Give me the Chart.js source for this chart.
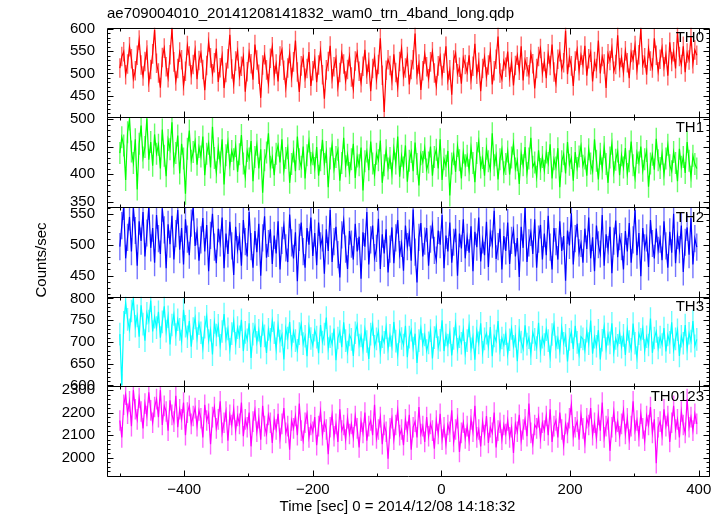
<!DOCTYPE html>
<html><head><meta charset="utf-8">
<script src="https://cdn.jsdelivr.net/npm/chart.js@4/dist/chart.umd.min.js"></script>
<style>html,body{margin:0;padding:0;background:#fff}</style>
</head><body>
<canvas id="c" width="724" height="516"></canvas>
<script>
const TITLE = 'ae709004010_20141208141832_wam0_trn_4band_long.qdp';
const X_TITLE = 'Time [sec] 0 = 2014/12/08 14:18:32';
const Y_TITLE = 'Counts/sec';
const BAND_NAMES = ['TH0', 'TH1', 'TH2', 'TH3', 'TH0123'];
const BAND_COLORS = ['#ff0000', '#00ff00', '#0000ff', '#00ffff', '#ff00ff'];
const BAND_ERR_COLORS = ['rgba(255,0,0,0.6)', 'rgba(0,255,0,0.6)', 'rgba(0,0,255,0.55)', 'rgba(0,255,255,0.6)', 'rgba(255,0,255,0.6)'];
const T_START = -500, T_STEP = 3;           // first bin time and bin width [sec]

const TH0 = [
512,538,549,497,521,560,533,488,506,541,575,519,494,527,553,480,509,544,598,523,
501,468,536,557,515,490,542,600,526,483,511,548,531,472,505,563,539,497,520,552,
487,529,546,509,462,518,571,535,499,524,556,481,513,540,467,502,533,587,510,476,
528,551,493,516,538,459,504,547,522,486,565,530,498,445,519,542,508,477,534,560,
495,521,482,539,553,507,468,512,545,491,526,574,503,458,517,536,489,511,548,472,
506,533,480,519,551,497,443,508,527,562,488,515,534,470,502,545,521,483,509,538,
492,465,528,547,505,479,516,553,498,525,460,511,537,486,520,579,496,413,507,531,
518,484,543,502,469,527,556,493,512,538,475,509,531,590,497,521,463,506,544,515,
488,526,549,501,472,517,538,495,523,561,484,508,452,530,546,499,514,477,535,520,
503,541,486,516,567,498,525,460,511,537,492,519,548,475,506,532,583,501,487,528,
514,549,492,526,473,518,541,507,561,484,530,515,497,545,522,466,511,538,556,501,
527,489,544,518,565,503,478,532,549,509,524,596,498,536,517,472,528,553,506,541,
519,562,495,533,548,482,527,511,574,500,538,521,467,544,529,557,505,520,586,513,
536,502,551,524,489,547,530,563,508,542,600,519,535,497,556,528,512,579,541,504,
532,558,515,543,495,570,527,549,511,591,538,520,561,503,546,530,584,522,553,541];
const TH1 = [
438,467,452,389,476,499,441,420,463,372,455,488,430,449,501,426,458,415,472,437,
453,410,481,433,396,462,445,494,419,438,470,401,455,428,364,446,479,424,440,459,
417,449,432,468,398,437,455,412,486,429,403,447,421,463,381,434,458,416,442,427,
451,404,436,471,419,395,442,428,460,387,431,453,410,445,366,425,439,474,413,430,
398,437,452,421,463,406,429,447,384,418,441,405,468,427,413,450,392,434,459,420,
436,411,449,397,425,462,418,440,376,428,453,409,431,444,388,420,466,414,435,402,
427,455,393,432,416,448,370,423,441,407,459,419,398,437,425,461,384,416,443,410,
429,401,446,419,468,395,433,412,452,386,424,440,405,457,418,379,436,422,447,408,
421,450,397,431,444,410,463,389,427,415,442,361,419,436,404,451,425,392,439,416,
433,407,448,420,385,438,459,412,429,397,446,423,408,474,416,434,390,427,445,403,
418,441,399,430,455,410,425,382,437,416,449,402,428,466,413,421,395,443,409,431,
406,439,420,454,392,427,412,447,376,423,436,401,458,417,429,388,440,411,432,451,
415,428,397,445,419,405,463,424,390,437,410,449,418,384,430,455,403,426,441,398,
434,412,447,400,423,459,416,393,438,421,450,406,427,442,377,419,435,408,464,425,
411,437,399,428,453,416,405,440,420,387,446,413,431,402,458,424,395,433,418,410];
const TH2 = [
497,531,562,478,512,545,489,560,523,466,538,506,553,481,519,562,495,527,471,548,
510,485,559,524,462,533,501,547,476,518,556,492,527,468,541,509,483,535,561,498,
521,474,508,543,489,532,457,515,550,496,470,526,503,544,462,518,485,537,498,451,
529,492,513,466,540,505,481,553,497,463,522,488,534,450,511,546,479,502,525,469,
515,486,538,460,507,531,495,472,549,503,478,520,441,512,536,489,463,527,500,544,
482,519,467,536,498,511,453,525,490,556,472,505,529,484,447,516,539,493,461,522,
501,476,534,489,513,445,520,497,553,468,508,531,479,494,542,461,517,486,525,455,
493,528,470,511,540,484,502,458,531,497,519,474,557,488,439,512,535,481,506,527,
466,509,532,491,475,523,500,548,462,515,489,536,471,504,526,450,518,494,541,478,
512,487,530,457,521,496,544,473,508,483,537,464,519,501,555,477,497,526,460,514,
490,536,469,507,524,481,511,448,529,495,561,472,503,520,485,541,463,509,532,476,
518,483,547,496,460,527,505,476,538,490,514,442,523,499,551,468,510,534,487,502,
471,526,493,544,478,512,457,531,500,485,548,466,517,492,529,454,506,539,480,513,
497,460,522,489,535,471,508,556,483,519,449,527,495,511,464,540,502,478,526,491,
509,475,538,498,463,521,487,550,470,515,492,531,456,504,528,484,543,468,510,496];
const TH3 = [
718,601,745,790,752,728,771,799,736,760,712,784,741,703,766,748,795,724,757,733,
769,710,746,782,725,758,694,739,763,717,751,729,702,774,736,712,748,689,731,755,
708,742,721,686,734,759,703,727,671,745,716,738,692,724,764,707,730,683,719,748,
697,733,712,751,679,722,705,743,663,718,736,699,727,688,740,714,675,729,706,749,
721,684,738,702,716,660,731,709,746,690,724,703,681,719,741,696,713,667,735,708,
692,727,711,674,739,700,718,756,685,712,695,731,658,709,724,688,745,703,677,716,
706,668,721,739,693,714,682,729,701,661,718,740,690,707,725,676,712,699,733,684,
715,689,746,702,671,724,708,693,737,665,711,727,686,719,652,703,731,694,716,680,
698,726,662,710,735,687,704,750,679,716,693,722,669,708,741,683,712,697,728,674,
703,737,684,711,659,725,698,743,676,707,720,689,734,667,714,702,748,681,709,693,
719,672,705,731,690,713,656,727,700,684,738,695,710,673,722,706,687,744,679,711,
694,728,703,666,717,740,688,709,679,732,697,715,655,706,723,684,737,699,671,712,
707,681,725,696,749,673,711,690,727,660,704,735,685,718,698,743,677,708,692,721,
688,715,670,729,701,683,742,697,664,719,706,731,680,712,693,754,675,709,724,686,
711,694,732,678,716,699,745,682,707,728,668,713,697,739,684,720,702,748,691,706];
const TH0123 = [
2165,2090,2235,2280,2195,2250,2140,2300,2215,2170,2265,2205,2130,2240,2185,2290,2210,2155,2225,2260,
2180,2300,2145,2230,2205,2120,2255,2190,2160,2275,2135,2215,2170,2245,2100,2200,2230,2150,2185,2220,
2140,2210,2175,2090,2235,2165,2195,2060,2180,2225,2130,2170,2250,2110,2155,2205,2075,2190,2145,2215,
2120,2185,2150,2245,2095,2170,2135,2200,2050,2160,2210,2115,2175,2080,2230,2140,2105,2190,2155,2065,
2170,2125,2195,2085,2150,2220,2110,2140,2035,2165,2130,2185,2100,2240,2120,2075,2155,2195,2090,2145,
2115,2180,2055,2140,2205,2100,2160,2125,2015,2135,2190,2095,2150,2070,2215,2120,2145,2080,2175,2105,
2150,2090,2185,2130,2045,2160,2110,2200,2075,2140,2165,2100,2235,2085,2125,2180,2060,2145,2115,1995,
2130,2175,2080,2145,2210,2100,2125,2055,2170,2115,2190,2035,2135,2160,2090,2225,2105,2140,2070,2180,
2095,2150,2120,2040,2165,2105,2195,2080,2135,2060,2145,2115,2210,2070,2125,2175,2025,2110,2155,2085,
2140,2075,2170,2115,2230,2090,2125,2050,2160,2100,2185,2065,2135,2110,2200,2045,2120,2155,2080,2145,
2105,2165,2090,2135,2020,2150,2115,2190,2075,2125,2170,2095,2240,2110,2060,2145,2130,2180,2085,2155,
2120,2185,2100,2215,2070,2140,2165,2090,2200,2125,2055,2150,2110,2175,2235,2095,2135,2160,2080,2190,
2130,2065,2175,2145,2220,2100,2155,2085,2190,2120,2245,2090,2140,2170,2030,2135,2205,2115,2160,2095,
2150,2210,2105,2175,2080,2140,2250,2120,2165,2095,2195,2130,2075,2185,2145,2225,2110,2170,1975,2135,
2160,2100,2215,2140,2185,2070,2155,2230,2125,2170,2090,2205,2145,2110,2260,2135,2180,2120,2195,2150];
const SERIES = [TH0, TH1, TH2, TH3, TH0123];
const ERRORS = [22, 20, 22, 26, 46];        // typical 1-sigma error bar per band
const Y_MIN = [401, 340, 416, 598, 1918];
const Y_MAX = [603, 503, 561, 804, 2317];
const Y_STEP = [50, 50, 50, 50, 100];
const Y_MINOR = [10, 10, 10, 10, 20];
const X_MIN = -520, X_MAX = 416;
const X_TICKS = [-400, -200, 0, 200, 400];
const X_MINOR = 100;

const FONT = '"Liberation Sans", Arial, Helvetica, sans-serif';
Chart.defaults.font.family = FONT;
Chart.defaults.color = '#000';

const datasets = SERIES.map((vals, i) => ({
  label: BAND_NAMES[i],
  data: vals.map((v, k) => ({x: T_START + k * T_STEP, y: v})),
  yAxisID: 'y' + i,
  borderColor: BAND_COLORS[i],
  borderWidth: 1.2,
  pointRadius: 0,
  tension: 0,
  fill: false,
  err: ERRORS[i],
  errColor: BAND_ERR_COLORS[i]
}));

function niceTicks(min, max, step) {
  const out = [];
  for (let v = Math.ceil(min / step) * step; v <= max + 1e-9; v += step) out.push(v);
  return out;
}

const scales = {
  x: {
    type: 'linear', position: 'bottom', min: X_MIN, max: X_MAX,
    grid: {display: false, drawTicks: false}, border: {display: false},
    afterBuildTicks: s => { s.ticks = X_TICKS.map(v => ({value: v})); },
    ticks: {autoSkip: false, padding: 5, font: {size: 15}, color: '#000',
      callback: v => v < 0 ? '\u2212' + Math.abs(v) : String(v)},
    afterFit: s => { s.height = 40; }
  }
};
BAND_NAMES.forEach((n, i) => {
  scales['y' + i] = {
    type: 'linear', position: 'left', stack: 'panels', stackWeight: 1, weight: 10 - i,
    min: Y_MIN[i], max: Y_MAX[i],
    grid: {display: false, drawTicks: false}, border: {display: false},
    afterBuildTicks: s => { s.ticks = niceTicks(Y_MIN[i], Y_MAX[i], Y_STEP[i]).map(v => ({value: v})); },
    ticks: {autoSkip: false, padding: 12, font: {size: 15}, color: '#000', callback: v => String(v)},
    afterFit: s => { s.width = 107; }
  };
});

const panelPlugin = {
  id: 'panels',
  beforeDatasetDraw(chart, args) {
    const ctx = chart.ctx, ca = chart.chartArea;
    const ds = chart.data.datasets[args.index];
    const ys = chart.scales[ds.yAxisID], xs = chart.scales.x;
    ctx.save();
    ctx.beginPath();
    ctx.rect(ca.left, ys.top, ca.right - ca.left, ys.bottom - ys.top);
    ctx.clip();
    ctx.strokeStyle = ds.errColor;
    ctx.lineWidth = 1.4;
    ctx.beginPath();
    ds.data.forEach(p => {
      const px = xs.getPixelForValue(p.x);
      ctx.moveTo(px, ys.getPixelForValue(p.y - ds.err));
      ctx.lineTo(px, ys.getPixelForValue(p.y + ds.err));
    });
    ctx.stroke();
  },
  afterDatasetDraw(chart) { chart.ctx.restore(); },
  afterDraw(chart) {
    const ctx = chart.ctx, ca = chart.chartArea, xs = chart.scales.x;
    ctx.save();
    ctx.strokeStyle = '#000';
    ctx.lineWidth = 1;
    BAND_NAMES.forEach((n, i) => {
      const ys = chart.scales['y' + i];
      const t = Math.round(ys.top) + 0.5, b = Math.round(ys.bottom) + 0.5;
      const l = Math.round(ca.left) + 0.5, r = Math.round(ca.right) + 0.5;
      ctx.beginPath();
      ctx.rect(l, t, r - l, b - t);
      niceTicks(X_MIN, X_MAX, X_MINOR).forEach(v => {
        const px = Math.round(xs.getPixelForValue(v)) + 0.5;
        const len = X_TICKS.includes(v) ? 6 : 3;
        ctx.moveTo(px, t); ctx.lineTo(px, t + len);
        ctx.moveTo(px, b); ctx.lineTo(px, b - len);
      });
      niceTicks(Y_MIN[i], Y_MAX[i], Y_MINOR[i]).forEach(v => {
        const py = Math.round(ys.getPixelForValue(v)) + 0.5;
        const len = (v % Y_STEP[i] === 0) ? 6 : 3;
        ctx.moveTo(l, py); ctx.lineTo(l + len, py);
        ctx.moveTo(r, py); ctx.lineTo(r - len, py);
      });
      ctx.stroke();
      ctx.fillStyle = '#000';
      ctx.font = '15px ' + FONT;
      ctx.textAlign = 'right';
      ctx.textBaseline = 'middle';
      ctx.fillText(n, ca.right - 5, ys.top + 10.5);
    });
    ctx.font = '15px ' + FONT;
    ctx.textAlign = 'center';
    ctx.textBaseline = 'middle';
    ctx.fillText(X_TITLE, 397.5, 507);
    ctx.translate(42, 260);
    ctx.rotate(-Math.PI / 2);
    ctx.fillText(Y_TITLE, 0, 0);
    ctx.restore();
  }
};

new Chart(document.getElementById('c'), {
  type: 'line',
  data: {datasets},
  options: {
    responsive: false,
    animation: false,
    layout: {padding: {left: 0, right: 15, top: 0, bottom: 0}},
    plugins: {
      legend: {display: false},
      tooltip: {enabled: false},
      title: {display: true, text: TITLE, align: 'start', fullSize: false,
        font: {size: 15, weight: 'normal'}, color: '#000', padding: {top: 5, bottom: 4.7}}
    },
    scales
  },
  plugins: [panelPlugin]
});
</script>
</body></html>
